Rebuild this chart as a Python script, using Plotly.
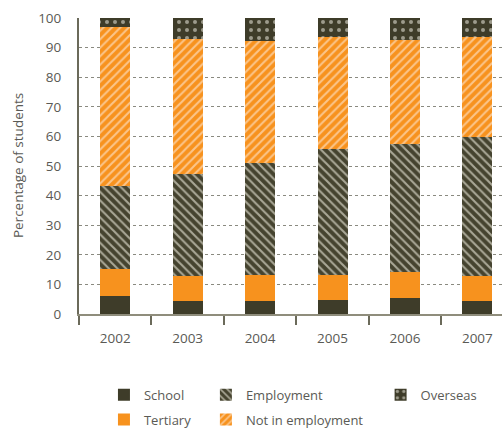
import plotly.graph_objects as go

years = ["2002", "2003", "2004", "2005", "2006", "2007"]
school = [6.0, 4.3, 4.3, 4.6, 5.3, 4.3]
tertiary = [9.1, 8.4, 8.8, 8.5, 8.8, 8.4]
employment = [28.1, 34.5, 37.9, 42.5, 43.5, 47.0]
not_in_employment = [53.7, 45.6, 41.1, 37.9, 34.9, 33.8]
overseas = [3.1, 7.2, 7.9, 6.5, 7.5, 6.5]
y_ticks = [0, 10, 20, 30, 40, 50, 60, 70, 80, 90, 100]

DARK = "#3e3c29"
ORANGE = "#f7921e"
TXT = "#5a5a55"
FONT = "Open Sans"

fig = go.Figure()
bw = 0.414

fig.add_bar(x=years, y=school, name="School", width=bw, legend="legend",
            legendgroup="a", legendrank=1,
            marker=dict(color=DARK, line=dict(width=0)))
fig.add_bar(x=years, y=tertiary, name="Tertiary", width=bw, legend="legend",
            legendgroup="b", legendrank=2,
            marker=dict(color=ORANGE, line=dict(width=0)))
fig.add_bar(x=years, y=employment, name="Employment", width=bw, legend="legend2",
            legendgroup="c", legendrank=3,
            marker=dict(color="#45432f", line=dict(width=0),
                        pattern=dict(shape="\\", fgcolor="#a9a796", bgcolor="#45432f",
                                     size=6, solidity=0.35, fillmode="replace")))
fig.add_bar(x=years, y=not_in_employment, name="Not in employment", width=bw, legend="legend2",
            legendgroup="d", legendrank=4,
            marker=dict(color=ORANGE, line=dict(width=0),
                        pattern=dict(shape="/", fgcolor="#fbc58a", bgcolor=ORANGE,
                                     size=6, solidity=0.35, fillmode="replace")))
fig.add_bar(x=years, y=overseas, name="Overseas", width=bw, legend="legend3",
            legendgroup="e", legendrank=5,
            marker=dict(color=DARK, line=dict(width=0),
                        pattern=dict(shape=".", fgcolor="#9d9b8c", bgcolor=DARK,
                                     size=8, solidity=0.2, fillmode="replace")))

legend_common = dict(orientation="v", yanchor="top", xanchor="left",
                     font=dict(family=FONT, size=13, color=TXT),
                     bgcolor="rgba(0,0,0,0)", tracegroupgap=5, traceorder="grouped")

fig.update_layout(
    barmode="stack",
    width=504, height=428,
    margin=dict(l=79, r=2, t=18, b=114, autoexpand=False),
    plot_bgcolor="white", paper_bgcolor="white",
    font=dict(family=FONT, size=13, color=TXT),
    legend=dict(x=0.059, y=-0.222, **legend_common),
    legend2=dict(x=0.300, y=-0.222, **legend_common),
    legend3=dict(x=0.713, y=-0.222, **legend_common),
    bargap=0.586,
    annotations=[dict(text="Percentage of students", textangle=-90,
                      xref="paper", yref="paper", x=-0.144, y=0.5,
                      xanchor="center", yanchor="middle", showarrow=False,
                      font=dict(family=FONT, size=13.5, color=TXT))],
)
fig.update_xaxes(
    type="category", range=[-0.5, 5.34], automargin=False,
    showline=True, linecolor="#8f8d7c", linewidth=2,
    ticks="outside", tickson="boundaries", ticklen=9, tickcolor="#6b6a5a", tickwidth=2,
    tickfont=dict(family=FONT, size=13.5, color=TXT), ticklabelstandoff=11,
    showgrid=False,
)
fig.update_yaxes(
    range=[0, 100], tickvals=y_ticks, automargin=False,
    showline=True, linecolor="#6b6a5a", linewidth=2,
    showgrid=True, gridcolor="#8a8a80", griddash="dot", gridwidth=1,
    zeroline=False, ticks="",
    tickfont=dict(family=FONT, size=13.5, color=TXT), ticklabelstandoff=13,
)

fig.write_html("out.html", config={"displayModeBar": False},
               post_script="document.body.style.margin='0';")
